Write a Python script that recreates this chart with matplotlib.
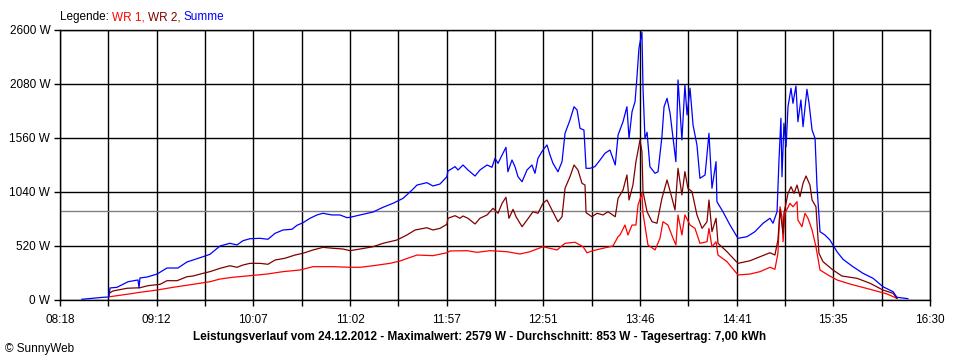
import matplotlib
matplotlib.use("Agg")
import matplotlib.pyplot as plt
import numpy as np

plt.rcParams['font.family'] = ['Liberation Sans', 'DejaVu Sans']

# time in minutes of the day, power in W
t_sum = [510.4, 522.3, 525.7, 526.3, 530.2, 536.5, 542.1, 542.7, 543.2, 547.2, 552.9, 558.5, 564.7, 569.8,
         573.2, 578.9, 582.8, 588.5, 594.1, 598.1, 601.5, 605.4, 611.1, 615.6, 619.6, 624.1, 629.2, 632.0,
         635.4, 639.4, 643.3, 646.7, 651.8, 656.3, 660.3, 662.0, 667.7, 675.0, 680.7, 686.3, 692.0, 697.1,
         699.9, 705.5, 708.9, 712.9, 716.8, 717.4, 721.4, 723.1, 725.9, 728.7, 732.7, 735.5, 739.5, 742.3,
         744.0, 745.7, 748.0, 750.2, 751.3, 753.6, 755.3, 757.0, 759.3, 762.1, 764.9, 766.6, 768.3, 771.1,
         773.4, 775.1, 776.8, 779.6, 781.9, 783.6, 786.4, 788.7, 790.4, 792.1, 794.3, 795.5, 797.7, 800.5,
         803.4, 806.2, 809.0, 812.0, 813.6, 816.4, 818.6, 819.8, 821.5, 823.2, 824.3, 825.4, 827.1, 827.7,
         828.8, 830.0, 831.6, 834.5, 836.2, 838.4, 839.6, 841.3, 843.0, 844.7, 846.3, 847.5, 849.7, 851.4,
         852.6, 854.3, 856.0, 858.2, 859.9, 862.8, 865.0, 866.7, 869.0, 869.5, 872.9, 876.9, 881.4, 886.5,
         891.0, 895.6, 899.5, 901.2, 903.5, 904.6, 905.7, 906.3, 907.4, 908.6, 909.7, 911.4, 912.5, 914.2,
         915.3, 917.0, 918.2, 920.4, 921.6, 923.3, 925.0, 926.1, 927.8, 930.6, 933.4, 937.4, 940.8, 946.4,
         952.1, 957.8, 963.4, 969.1, 971.3, 977.5]
p_sum = [7, 26, 29, 116, 122, 176, 193, 116, 212, 221, 250, 308, 308, 366,
         385, 417, 440, 520, 546, 530, 571, 590, 594, 585, 642, 674, 681, 719,
         744, 787, 819, 835, 819, 819, 793, 796, 819, 847, 893, 931, 979, 1059,
         1107, 1130, 1098, 1117, 1187, 1242, 1284, 1252, 1300, 1252, 1194, 1252, 1300, 1278,
         1365, 1316, 1396, 1470, 1235, 1348, 1284, 1187, 1139, 1252, 1300, 1220, 1365, 1444,
         1493, 1396, 1316, 1235, 1332, 1605, 1733, 1861, 1830, 1653, 1637, 1268, 1268, 1284,
         1348, 1413, 1444, 1300, 1589, 1717, 1861, 1557, 1813, 1910, 2150, 2424, 2579, 2039,
         1557, 1615, 1284, 1220, 1235, 1573, 1861, 1942, 1798, 1557, 1332, 2119, 1541, 2070,
         1782, 2039, 1685, 1493, 1172, 1204, 1605, 1076, 1332, 947, 850, 722, 594, 610,
         658, 739, 787, 739, 850, 1348, 1750, 1187, 1702, 1476, 1861, 2039, 1894, 2061,
         1717, 1926, 1669, 2029, 1894, 1637, 1557, 1091, 658, 626, 578, 465, 392, 321,
         257, 209, 128, 80, 26, 13]

t_wr2 = [526.3, 528.0, 535.9, 543.2, 547.8, 554.6, 558.5, 564.2, 569.8, 573.2, 578.9, 582.8, 588.5, 594.1,
         598.1, 601.5, 605.4, 611.1, 615.6, 619.6, 625.2, 630.9, 635.4, 641.1, 646.7, 652.4, 658.0, 662.0,
         667.7, 675.0, 680.7, 688.6, 694.2, 698.8, 705.5, 708.9, 712.9, 716.8, 717.4, 721.4, 724.2, 725.9,
         728.7, 732.7, 735.5, 739.5, 742.9, 745.7, 748.0, 750.2, 751.9, 754.2, 755.9, 759.3, 762.1, 765.5,
         768.3, 771.1, 773.4, 776.2, 779.6, 781.9, 783.6, 786.4, 788.7, 790.9, 793.2, 794.9, 795.5, 798.8,
         801.7, 805.1, 807.9, 812.0, 813.6, 816.4, 818.6, 819.8, 822.0, 823.7, 826.0, 827.1, 827.7, 830.0,
         832.8, 835.6, 838.4, 841.3, 844.1, 845.8, 847.5, 849.7, 851.4, 853.1, 855.4, 858.2, 861.1, 863.9,
         865.0, 866.7, 869.0, 870.1, 875.2, 881.4, 888.2, 893.9, 899.5, 902.3, 904.0, 905.2, 906.9, 907.4,
         909.7, 911.4, 913.1, 914.8, 916.5, 918.2, 919.9, 922.1, 923.3, 925.5, 927.2, 929.5, 935.1, 940.2,
         948.7, 956.1, 963.4, 969.1, 971.3]
p_wr2 = [70, 87, 113, 118, 138, 151, 186, 186, 224, 231, 257, 273, 305, 330,
         315, 337, 353, 353, 344, 385, 402, 433, 450, 482, 507, 498, 491, 475,
         491, 513, 546, 578, 626, 674, 696, 674, 690, 729, 787, 812, 787, 809,
         787, 732, 787, 819, 883, 835, 931, 989, 787, 873, 802, 706, 770, 850,
         835, 931, 963, 867, 754, 802, 1076, 1187, 1300, 1252, 1124, 1107, 841, 802,
         835, 819, 850, 802, 979, 1059, 1204, 963, 1107, 1332, 1541, 1428, 1043, 850,
         754, 739, 979, 1156, 979, 867, 1268, 1011, 1236, 1076, 1043, 819, 690, 754,
         963, 658, 787, 546, 465, 353, 378, 417, 455, 433, 578, 867, 642, 835,
         1027, 1091, 1027, 1107, 995, 1124, 1194, 1107, 963, 898, 450, 369, 289, 231,
         209, 161, 96, 65, 16]

t_wr1 = [526.3, 535.9, 543.2, 552.9, 561.9, 573.2, 582.8, 588.5, 595.8, 605.4, 615.1, 624.1, 633.7, 641.1,
         652.4, 662.0, 667.7, 675.0, 684.6, 690.3, 699.9, 708.9, 716.8, 718.5, 728.2, 733.8, 741.2, 750.8,
         758.1, 763.8, 771.1, 779.1, 783.6, 789.2, 793.8, 796.0, 799.4, 805.1, 810.7, 813.6, 814.7, 817.5,
         819.2, 821.5, 823.7, 824.9, 827.1, 827.7, 830.5, 834.5, 837.3, 839.0, 841.8, 844.7, 846.3, 847.5,
         849.7, 851.4, 854.3, 857.1, 859.9, 863.9, 865.0, 866.7, 869.0, 870.1, 875.2, 881.4, 888.2, 893.9,
         899.5, 902.3, 904.0, 905.2, 906.3, 906.9, 908.0, 910.8, 912.5, 914.8, 915.3, 917.6, 919.3, 921.0,
         923.3, 925.5, 927.8, 932.3, 937.4, 944.7, 956.1, 965.7, 971.3]
p_wr1 = [32, 55, 74, 96, 122, 151, 176, 202, 219, 234, 250, 273, 289, 321,
         321, 315, 315, 330, 353, 376, 433, 427, 455, 472, 475, 459, 475, 465,
         443, 465, 513, 482, 546, 556, 513, 455, 475, 498, 520, 610, 626, 722,
         626, 722, 722, 915, 1027, 835, 530, 482, 594, 754, 722, 594, 530, 819,
         626, 819, 722, 690, 546, 561, 690, 513, 561, 433, 369, 241, 250, 273,
         315, 296, 450, 898, 802, 561, 835, 931, 898, 947, 770, 706, 835, 787,
         674, 513, 289, 241, 193, 154, 103, 58, 16]

x_labels = ["08:18", "09:12", "10:07", "11:02", "11:57", "12:51", "13:46", "14:41", "15:35", "16:30"]
y_ticks = [0, 520, 1040, 1560, 2080, 2600]
mean_power = 853

fig = plt.figure(figsize=(9.6, 3.6), dpi=100)
ax = fig.add_axes([60 / 960, 60 / 360, 870 / 960, 270 / 360])

x_major = np.linspace(498, 990, len(x_labels))
x_all = np.linspace(498, 990, 2 * len(x_labels) - 1)

for x in x_all:
    ax.axvline(x, color="black", lw=1.0, zorder=1)
for y in y_ticks:
    ax.axhline(y, color="black", lw=1.0, zorder=1)
ax.axhline(mean_power, color="#808080", lw=1.0, zorder=1)

ax.plot(t_wr1, p_wr1, color="#ff0000", lw=0.9, zorder=3)
ax.plot(t_wr2, p_wr2, color="#800000", lw=0.9, zorder=4)
ax.plot(t_sum, p_sum, color="#0000ff", lw=0.9, zorder=5)

ax.set_xlim(498, 990)
ax.set_ylim(0, 2600)
ax.set_xticks(x_all, minor=True)
ax.set_xticks(x_major)
ax.set_xticklabels(x_labels, fontsize=8.5)
ax.set_yticks(y_ticks)
ax.set_yticklabels([f"{v} W" for v in y_ticks], fontsize=8.5)
ax.tick_params(axis="both", which="both", direction="out", length=4, width=1.0, color="black")
ax.tick_params(axis="x", which="major", pad=6)
ax.tick_params(axis="y", pad=3)
for s in ax.spines.values():
    s.set_color("black")
    s.set_linewidth(1.0)

# legend line at the top, coloured word by word
parts = [("Legende: ", "black"), ("WR 1, ", "#ff0000"), ("WR 2, ", "#800000"), ("Summe", "#0000ff")]
renderer = fig.canvas.get_renderer()
xpos = 60 / 960
for txt, col in parts:
    t = fig.text(xpos, 1 - 17 / 360, txt, color=col, fontsize=8.5, va="center", ha="left")
    bb = t.get_window_extent(renderer=renderer)
    xpos += bb.width / fig.bbox.width

fig.text(0.5, 1 - 337 / 360,
         "Leistungsverlauf vom 24.12.2012 - Maximalwert: 2579 W - Durchschnitt: 853 W - Tagesertrag: 7,00 kWh",
         ha="center", va="center", fontsize=8.5, fontweight="bold")
fig.text(5 / 960, 1 - 349 / 360, "\u00a9 SunnyWeb", ha="left", va="center", fontsize=8.5)

fig.savefig("out.png", dpi=100)
